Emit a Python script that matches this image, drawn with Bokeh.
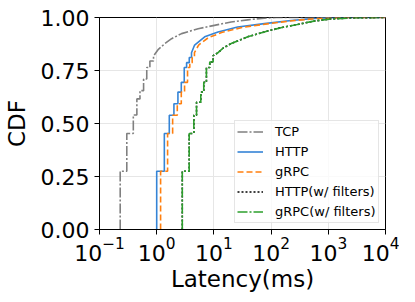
from bokeh.plotting import figure
from bokeh.models import FixedTicker, Legend, LegendItem, Range1d
from bokeh.embed import file_html
from bokeh.resources import INLINE

# ---- data (latency in ms, cumulative fraction) ----
tcp_lat = [0.23, 0.23, 0.30, 0.30, 0.39, 0.39, 0.45, 0.45, 0.51, 0.51, 0.59, 0.59,
           0.67, 0.67, 0.76, 0.76, 0.88, 0.88, 1.07, 1.39, 1.82, 2.72, 5.3, 10.2,
           20, 39, 76, 123, 1000]
tcp_cdf = [0, 0.275, 0.275, 0.453, 0.453, 0.54, 0.54, 0.616, 0.616, 0.655, 0.655, 0.71,
           0.71, 0.764, 0.764, 0.795, 0.795, 0.818, 0.85, 0.877, 0.90, 0.924, 0.947, 0.963,
           0.979, 0.989, 0.997, 1.0, 1.0]

http_lat = [1.0, 1.0, 1.36, 1.36, 1.66, 1.66, 2.0, 2.0, 2.35, 2.35, 2.69, 2.69,
            3.03, 3.03, 3.33, 3.33, 3.71, 3.71, 4.06, 4.06, 4.6, 6.9, 11.8, 26,
            76, 224, 650, 1660, 10000]
http_cdf = [0, 0.275, 0.275, 0.453, 0.453, 0.539, 0.539, 0.593, 0.593, 0.648, 0.648, 0.694,
            0.694, 0.764, 0.764, 0.787, 0.787, 0.811, 0.811, 0.834, 0.87, 0.909, 0.932, 0.955,
            0.971, 0.986, 0.997, 1.0, 1.0]

grpc_lat = [1.17, 1.17, 1.55, 1.55, 1.90, 1.90, 2.29, 2.29, 2.69, 2.69, 3.07, 3.07,
            3.46, 3.46, 3.79, 3.79, 4.17, 4.17, 4.57, 4.57, 5.4, 8.0, 14, 31,
            85, 240, 680, 2000, 10000]
grpc_cdf = [0, 0.275, 0.275, 0.453, 0.453, 0.539, 0.539, 0.593, 0.593, 0.648, 0.648, 0.694,
            0.694, 0.764, 0.764, 0.787, 0.787, 0.811, 0.811, 0.834, 0.87, 0.905, 0.93, 0.953,
            0.97, 0.985, 0.996, 1.0, 1.0]

http_f_lat = [2.8, 2.8, 3.7, 3.7, 4.46, 4.46, 4.97, 4.97, 5.9, 5.9, 6.65, 6.65,
              7.4, 7.4, 8.46, 8.46, 9.7, 9.7, 11.8, 14.4, 20, 39, 76, 148,
              288, 560, 1100, 3000, 10000]
http_f_cdf = [0, 0.275, 0.275, 0.453, 0.453, 0.539, 0.539, 0.60, 0.60, 0.648, 0.648, 0.694,
              0.694, 0.764, 0.764, 0.79, 0.79, 0.82, 0.834, 0.855, 0.877, 0.909, 0.932, 0.952,
              0.967, 0.983, 0.993, 0.999, 1.0]

grpc_f_lat = [2.8, 2.8, 3.7, 3.7, 4.46, 4.46, 4.97, 4.97, 5.9, 5.9, 6.65, 6.65,
              7.4, 7.4, 8.46, 8.46, 9.7, 9.7, 11.8, 14.4, 20, 39, 76, 148,
              288, 560, 1100, 3000, 10000]
grpc_f_cdf = [0, 0.275, 0.275, 0.453, 0.453, 0.539, 0.539, 0.60, 0.60, 0.648, 0.648, 0.694,
              0.694, 0.764, 0.764, 0.79, 0.79, 0.82, 0.834, 0.855, 0.877, 0.909, 0.932, 0.952,
              0.967, 0.983, 0.993, 0.999, 1.0]

x_ticks = [0.1, 1, 10, 100, 1000, 10000]
y_ticks = [0.0, 0.25, 0.5, 0.75, 1.0]
y_tick_labels = ["0.00", "0.25", "0.50", "0.75", "1.00"]
labels = ["TCP", "HTTP", "gRPC", "HTTP(w/ filters)", "gRPC(w/ filters)"]

FONT = "DejaVu Sans"

p = figure(width=399, height=294, x_axis_type="log",
           x_range=Range1d(0.1, 10000), y_range=Range1d(0, 1),
           output_backend="svg", toolbar_location=None,
           min_border_left=97, min_border_right=14, min_border_top=17, min_border_bottom=62)

p.outline_line_color = "black"
p.outline_line_width = 1
p.background_fill_color = "white"
p.border_fill_color = "white"

# axes
p.xaxis.ticker = FixedTicker(ticks=x_ticks)
p.yaxis.ticker = FixedTicker(ticks=y_ticks)
p.yaxis.major_label_overrides = {t: l for t, l in zip(y_ticks, y_tick_labels)}
p.xaxis.axis_label = "Latency(ms)"
p.yaxis.axis_label = "CDF"
for ax in (p.xaxis, p.yaxis):
    ax.axis_label_text_font = FONT
    ax.axis_label_text_font_size = "23px"
    ax.axis_label_text_font_style = "normal"
    ax.axis_label_text_color = "black"
    ax.major_label_text_font = FONT
    ax.major_label_text_font_size = "22px"
    ax.major_label_text_color = "black"
    ax.axis_line_color = "black"
    ax.major_tick_line_color = "black"
    ax.major_tick_out = 5
    ax.major_tick_in = 0
    ax.minor_tick_out = 0
    ax.minor_tick_in = 0
    ax.minor_tick_line_color = None
p.xaxis.major_label_standoff = 2
p.xaxis.axis_label_standoff = 2
p.yaxis.major_label_standoff = 5
p.yaxis.axis_label_standoff = 8

p.xgrid.ticker = FixedTicker(ticks=x_ticks)
p.ygrid.ticker = FixedTicker(ticks=y_ticks)
p.grid.grid_line_color = "#e6e6e6"
p.grid.grid_line_width = 1

lw = 1.6
r_tcp = p.line(tcp_lat, tcp_cdf, line_color="#808080", line_width=lw, line_dash="10 2 2 2")
r_http = p.line(http_lat, http_cdf, line_color="#3584d6", line_width=lw)
r_grpc = p.line(grpc_lat, grpc_cdf, line_color="#ff7f0e", line_width=lw, line_dash="6 3")
r_httpf = p.line(http_f_lat, http_f_cdf, line_color="black", line_width=lw, line_dash="2 2")
r_grpcf = p.line(grpc_f_lat, grpc_f_cdf, line_color="#2ca02c", line_width=lw, line_dash="10 2 2 2")

legend = Legend(items=[LegendItem(label=l, renderers=[r]) for l, r in
                       zip(labels, [r_tcp, r_http, r_grpc, r_httpf, r_grpcf])],
                location=(135, 6))
legend.label_text_font = FONT
legend.label_text_font_size = "13px"
legend.label_text_color = "black"
legend.glyph_width = 26
legend.glyph_height = 17
legend.label_height = 17
legend.spacing = 3
legend.padding = 2
legend.margin = 0
legend.label_standoff = 12
legend.border_line_color = "#cccccc"
legend.border_line_width = 1
legend.background_fill_color = "white"
legend.background_fill_alpha = 0.8
p.add_layout(legend, "center")

open("out.html", "w").write(file_html(p, INLINE))
